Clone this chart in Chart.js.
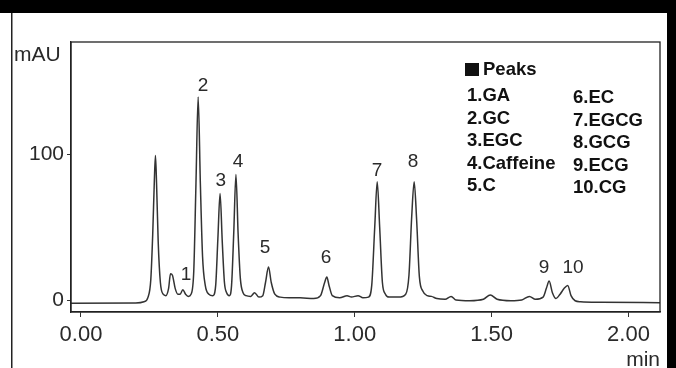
<!DOCTYPE html>
<html>
<head>
<meta charset="utf-8">
<script src="https://cdn.jsdelivr.net/npm/chart.js@4.4.1/dist/chart.umd.min.js"></script>
<style>
  html, body { margin: 0; padding: 0; background: #fff; }
  canvas { display: block; }
</style>
</head>
<body>
<canvas id="myChart" width="676" height="368"></canvas>
<script>
// retention time (min) and absorbance (mAU)
const times = [
    -0.04, 0.20, 0.23, 0.245, 0.255, 0.262, 0.268, 0.272, 0.276, 0.282, 0.29, 0.30,
    0.31, 0.32, 0.327, 0.334, 0.344, 0.354, 0.362, 0.372, 0.382, 0.392, 0.402,
    0.412, 0.42, 0.428, 0.436, 0.444, 0.454, 0.467, 0.482, 0.492, 0.5, 0.508,
    0.516, 0.524, 0.532, 0.542, 0.55, 0.558, 0.566, 0.574, 0.582, 0.592, 0.603,
    0.62, 0.634, 0.65, 0.664, 0.674, 0.685, 0.695, 0.708, 0.728, 0.76, 0.80,
    0.85, 0.875, 0.89, 0.898, 0.906, 0.918, 0.945, 0.972, 0.988, 1.012, 1.03,
    1.05, 1.062, 1.073, 1.082, 1.091, 1.101, 1.112, 1.125, 1.16, 1.186, 1.198,
    1.208, 1.217, 1.226, 1.236, 1.249, 1.265, 1.28, 1.30, 1.33, 1.352, 1.37,
    1.42, 1.47, 1.495, 1.52, 1.57, 1.61, 1.638, 1.66, 1.688, 1.70, 1.71,
    1.722, 1.735, 1.75, 1.765, 1.778, 1.79, 1.805, 1.825, 1.9, 2.12
];
const signal = [
    -2.2, -2.0, -1.2, 2, 14, 45, 82, 99, 80, 40, 12, 4,
    3, 8, 18, 17, 8, 4, 4, 7, 4, 2.5, 4,
    20, 80, 139, 80, 30, 10, 4, 3, 10, 42, 73,
    40, 12, 5, 3, 10, 46, 86, 45, 15, 5, 3,
    2.5, 5, 2, 3, 12, 22.6, 12, 4, 2, 1.5, 1.5,
    1, 3, 12, 15.8, 10, 3, 1.5, 3, 2, 3, 1.5,
    2, 10, 50, 81, 50, 12, 4, 2, 2, 4, 17,
    57, 81, 55, 16, 6, 3, 2.5, 1, 0.5, 2.5, 0,
    -0.5, 0.5, 3.5, 0.5, -0.5, 0, 2.5, 0.5, 2, 8, 13,
    5, 1, 4, 8, 10, 3, -0.5, -1.2, -1.6, -1.8
];

// peak numbers, the retention time they sit over and the mAU where the number sits
const peakNumbers = [ '1', '2', '3', '4', '5', '6', '7', '8', '9', '10' ];
const peakTimes = [ 0.384, 0.446, 0.511, 0.574, 0.672, 0.895, 1.081, 1.213, 1.691, 1.797 ];
const peakLabelY = [ 17, 146.6, 81.5, 94.5, 35.6, 28.8, 88.4, 94.5, 21.9, 21.9 ];

const peakNames = [ 'GA', 'GC', 'EGC', 'Caffeine', 'C', 'EC', 'EGCG', 'GCG', 'ECG', 'CG' ];

const xTicks = [ 0, 0.5, 1.0, 1.5, 2.0 ];
const yTicks = [ 0, 100 ];

const FONT = '"Liberation Sans", Arial, sans-serif';
const ctx = document.getElementById( 'myChart' );

const decor = {
    id: 'decor',
    beforeDraw( chart )
    {
        const c = chart.ctx;
        c.save();
        c.fillStyle = '#fff';
        c.fillRect( 0, 0, chart.width, chart.height );
        // photo frame
        c.fillStyle = '#000';
        c.fillRect( 0, 0, chart.width, 13 );
        c.fillRect( 667, 0, chart.width - 667, chart.height );
        c.fillStyle = '#222';
        c.fillRect( 11, 13, 1.5, chart.height - 13 );
        c.restore();
    },
    afterDraw( chart )
    {
        const c = chart.ctx;
        const a = chart.chartArea;
        const xs = chart.scales.x, ys = chart.scales.y;
        c.save();
        c.strokeStyle = '#222';
        c.lineWidth = 1.3;
        c.strokeRect( a.left, a.top, a.right - a.left, a.bottom - a.top );

        c.fillStyle = '#2a2a2a';
        c.font = '21px ' + FONT;
        c.textBaseline = 'middle';
        c.textAlign = 'left';
        c.fillText( 'mAU', 14, 55 );
        c.textAlign = 'right';
        c.fillText( 'min', 660, 360 );

        // peak numbers
        c.textAlign = 'center';
        c.font = '19px ' + FONT;
        peakNumbers.forEach( ( n, i ) =>
        {
            c.fillText( n, xs.getPixelForValue( peakTimes[ i ] ), ys.getPixelForValue( peakLabelY[ i ] ) );
        } );

        // peak list
        c.fillStyle = '#111';
        c.textAlign = 'left';
        c.font = 'bold 18.5px ' + FONT;
        c.fillRect( 465, 63, 14, 13 );
        c.fillText( 'Peaks', 483, 70 );
        peakNames.forEach( ( name, i ) =>
        {
            const col = i < 5 ? 0 : 1;
            const row = i % 5;
            const x = col ? 573 : 467;
            const y = ( col ? 98 : 96 ) + row * 22.5;
            c.fillText( ( i + 1 ) + '.' + name, x, y );
        } );
        c.restore();
    }
};

new Chart( ctx, {
    type: 'line',
    data: {
        datasets: [ {
            data: times.map( ( t, i ) => ( { x: t, y: signal[ i ] } ) ),
            borderColor: '#333',
            borderWidth: 1.5,
            pointRadius: 0,
            cubicInterpolationMode: 'monotone',
            fill: false
        } ]
    },
    options: {
        responsive: false,
        animation: false,
        devicePixelRatio: 1,
        layout: { padding: { left: 0, right: 16, top: 42, bottom: 0 } },
        plugins: {
            legend: { display: false },
            tooltip: { enabled: false }
        },
        scales: {
            x: {
                type: 'linear',
                min: -0.0365,
                max: 2.115,
                afterBuildTicks: ( s ) => { s.ticks = xTicks.map( v => ( { value: v } ) ); },
                afterFit: ( s ) => { s.height = 56; },
                grid: { drawOnChartArea: false, drawTicks: true, tickLength: 5, color: '#333' },
                border: { display: true, color: '#222', width: 1.3 },
                ticks: {
                    padding: 5,
                    maxRotation: 0,
                    color: '#2a2a2a',
                    font: { family: FONT, size: 22 },
                    callback: ( v ) => Number( v ).toFixed( 2 )
                }
            },
            y: {
                min: -8.2,
                max: 176.7,
                afterBuildTicks: ( s ) => { s.ticks = yTicks.map( v => ( { value: v } ) ); },
                afterFit: ( s ) => { s.width = 71; },
                grid: { drawOnChartArea: false, drawTicks: true, tickLength: 4, color: '#333' },
                border: { display: true, color: '#222', width: 1.3 },
                ticks: {
                    padding: 3,
                    color: '#2a2a2a',
                    font: { family: FONT, size: 21 }
                }
            }
        }
    },
    plugins: [ decor ]
} );
</script>
</body>
</html>
